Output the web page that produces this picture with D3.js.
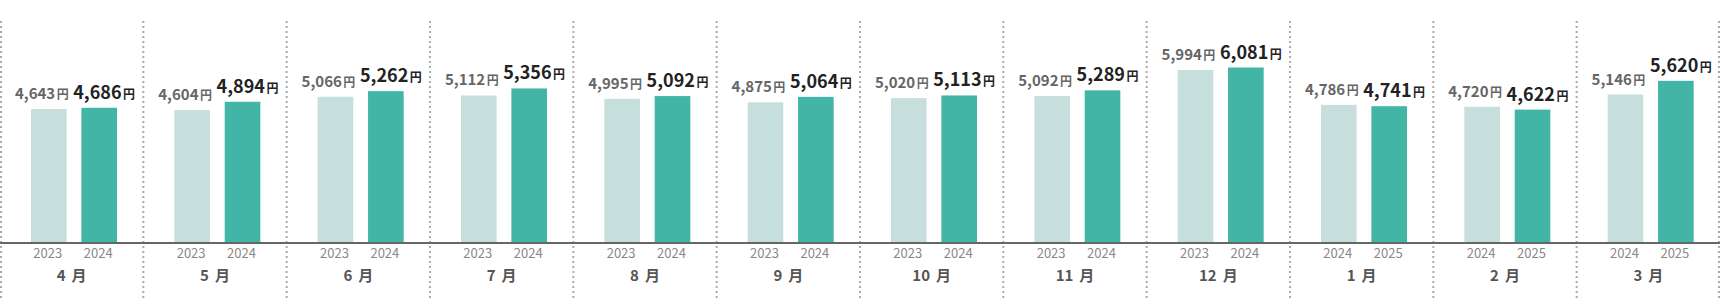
<!DOCTYPE html>
<html>
<head>
<meta charset="utf-8">
<script src="https://cdn.jsdelivr.net/npm/d3@7"></script>
<style>
  body { margin: 0; background: #fff; }
  svg { display: block; font-family: "Noto Sans CJK JP", "Noto Sans", sans-serif; }
  .divider { stroke: #aaa; stroke-width: 2; stroke-dasharray: 2 3; }
  .baseline { stroke: #666; stroke-width: 2; }
  .year { font-size: 13px; fill: #888; text-anchor: middle; }
  .month { font-size: 15px; font-weight: 700; fill: #555; text-anchor: middle; }
  .val-prev { font-size: 15px; font-weight: 700; fill: #666; text-anchor: middle; }
  .val-curr { font-size: 18px; font-weight: 700; fill: #222; text-anchor: middle; }
  .yen { font-size: 12px; }
</style>
</head>
<body>
<svg width="1720" height="300"></svg>
<script>
const MONTHS      = ['4', '5', '6', '7', '8', '9', '10', '11', '12', '1', '2', '3'];
const PREV_YEARS  = ['2023', '2023', '2023', '2023', '2023', '2023', '2023', '2023', '2023', '2024', '2024', '2024'];
const CURR_YEARS  = ['2024', '2024', '2024', '2024', '2024', '2024', '2024', '2024', '2024', '2025', '2025', '2025'];
const PREV_VALUES = [4643, 4604, 5066, 5112, 4995, 4875, 5020, 5092, 5994, 4786, 4720, 5146];
const CURR_VALUES = [4686, 4894, 5262, 5356, 5092, 5064, 5113, 5289, 6081, 4741, 4622, 5620];

const W = 1720, H = 300;
const baseY = 243, topY = 41;

const svg = d3.select('svg');

const x0 = d3.scaleBand()
    .domain(MONTHS.map((m, i) => i))
    .range([0, W]);

const x1 = d3.scaleBand()
    .domain(['prev', 'curr'])
    .range([31, 117])
    .paddingInner(0.293);

const y = d3.scaleLinear()
    .domain([0, 7000])
    .range([baseY, topY]);

const rows = MONTHS.map((m, i) => ({
    i: i,
    month: m,
    bars: [
        { key: 'prev', year: PREV_YEARS[i], value: PREV_VALUES[i] },
        { key: 'curr', year: CURR_YEARS[i], value: CURR_VALUES[i] },
    ]
}));

// dotted dividers between months
svg.selectAll('.divider')
    .data(d3.range(MONTHS.length + 1))
    .enter()
    .append('line')
    .classed('divider', true)
    .attr('x1', i => Math.min(Math.max(i * x0.step(), 1), W - 1))
    .attr('x2', i => Math.min(Math.max(i * x0.step(), 1), W - 1))
    .attr('y1', 21)
    .attr('y2', H);

const groups = svg.selectAll('.group')
    .data(rows)
    .enter()
    .append('g')
    .classed('group', true)
    .attr('transform', d => `translate(${x0(d.i)},0)`);

groups.selectAll('rect')
    .data(d => d.bars)
    .enter()
    .append('rect')
    .attr('x', b => x1(b.key))
    .attr('width', x1.bandwidth())
    .attr('y', b => y(b.value))
    .attr('height', b => baseY - y(b.value))
    .attr('fill', b => b.key === 'prev' ? '#c6dfdc' : '#42b5a6');

// value labels
const labels = groups.selectAll('.val')
    .data(d => d.bars)
    .enter()
    .append('text')
    .attr('class', b => b.key === 'prev' ? 'val-prev' : 'val-curr')
    .attr('x', b => x1(b.key) + x1.bandwidth() / 2 + (b.key === 'prev' ? -7 : 5))
    .attr('y', b => y(b.value) - (b.key === 'prev' ? 10 : 9));
labels.append('tspan').text(b => d3.format(',')(b.value));
labels.append('tspan').classed('yen', true).attr('dx', 1.5).text('円');

// year ticks
groups.selectAll('.year')
    .data(d => d.bars)
    .enter()
    .append('text')
    .classed('year', true)
    .attr('x', b => x1(b.key) + x1.bandwidth() / 2 - 1)
    .attr('y', 257.5)
    .text(b => b.year);

// month labels
const monthText = groups.append('text')
    .classed('month', true)
    .attr('x', x0.bandwidth() / 2)
    .attr('y', 280.5);
monthText.append('tspan').text(d => d.month);
monthText.append('tspan').attr('dx', 6).text('月');

svg.append('line')
    .classed('baseline', true)
    .attr('x1', 0)
    .attr('x2', W)
    .attr('y1', baseY)
    .attr('y2', baseY);
</script>
</body>
</html>
